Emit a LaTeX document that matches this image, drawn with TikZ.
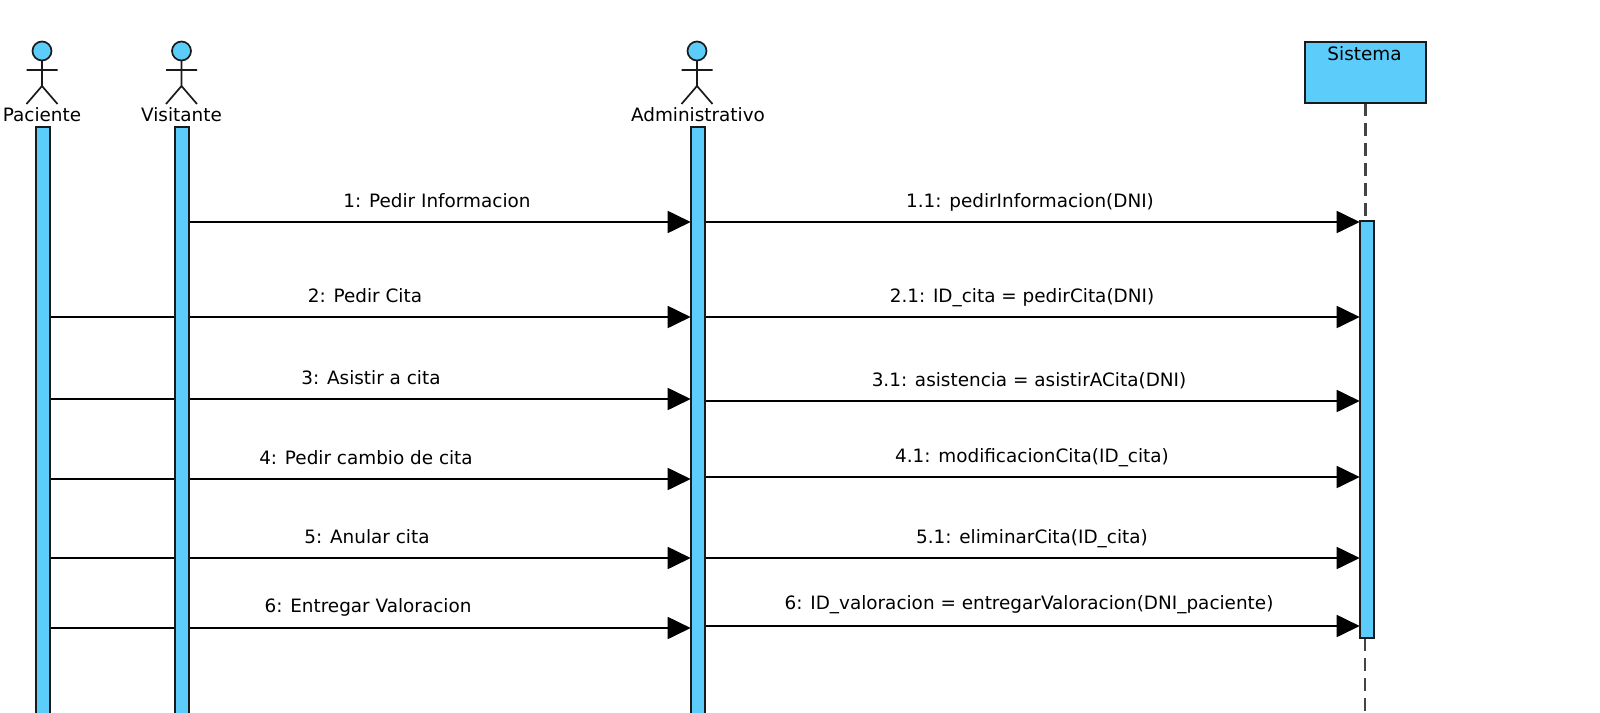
\documentclass[tikz,border=0pt]{standalone}
\usepackage{fontspec}
\setmainfont{DejaVu Sans}
\usetikzlibrary{arrows.meta,positioning,backgrounds}
\definecolor{lifeblue}{HTML}{5CCDFB}
\definecolor{dkline}{HTML}{1A1A1A}
\definecolor{dashgrey}{HTML}{444444}

\begin{document}
\begin{tikzpicture}[x=0.5pt,y=-0.5pt,
  bar/.style={draw=dkline,fill=lifeblue,line width=0.85pt,inner sep=0pt,outer sep=0pt,minimum width=7.3pt},
  objbox/.style={draw=dkline,fill=lifeblue,line width=0.85pt,inner sep=0pt,outer sep=0pt,
              minimum width=60.5pt,minimum height=30.5pt},
  lab/.style={font=\fontsize{9.2}{11}\selectfont,text=black,inner sep=0pt,text height=7pt,text depth=2pt,yshift=-0.5pt},
  msg/.style={-{Triangle[length=11.5pt,width=11pt]},black,line width=0.9pt},
  lifeline/.style={dashgrey,line width=1.1pt,dash pattern=on 6.5pt off 3.5pt},
  actorfig/.pic={
    \draw[dkline,line width=0.85pt,fill=lifeblue] (0,-53) circle[radius=9.5];
    \draw[dkline,line width=0.85pt] (0,-43.5) -- (0,-18) (-15.5,-34) -- (15.5,-34)
      (-15.5,0) -- (0,-18) -- (15.5,0);
  }]
\useasboundingbox (0,0) rectangle (1600,712);

\path (42,104) pic {actorfig};
\path (181.5,104) pic {actorfig};
\path (697,104) pic {actorfig};

\node[lab] (pac) at (42,115) {Paciente};
\node[lab] (vis) at (181.5,115) {Visitante};
\node[lab] (adm) at (698,115) {Administrativo};

\node[bar,minimum height=297pt] (pacbar) at (43,424) {};
\node[bar,minimum height=297pt] (visbar) at (182,424) {};
\node[bar,minimum height=297pt] (admbar) at (698,424) {};

\node[objbox] (sis) at (1365.5,72.5) {};
\node[lab] (sislab) at (1364.5,54) {Sistema};
\node[bar,minimum height=208.5pt] (sisbar) at (1367,429.5) {};
\coordinate (sisend) at (1365,712);

\coordinate (m1) at (0,222);
\coordinate (m2) at (0,317);
\coordinate (m3) at (0,399);
\coordinate (m3b) at (0,401);
\coordinate (m4) at (0,479);
\coordinate (m4b) at (0,477);
\coordinate (m5) at (0,558);
\coordinate (m6) at (0,628);
\coordinate (m6b) at (0,626);

\begin{scope}[on background layer]
\draw[lifeline] (sis.south) -- (sisbar.north -| sis.south);
\draw[lifeline] (sisbar.south -| sisend) -- (sisend);

\draw[msg] (visbar.east |- m1) -- (admbar.west |- m1);
\draw[msg] (admbar.east |- m1) -- (sisbar.west |- m1);
\draw[msg] (pacbar.east |- m2) -- (admbar.west |- m2);
\draw[msg] (admbar.east |- m2) -- (sisbar.west |- m2);
\draw[msg] (pacbar.east |- m3) -- (admbar.west |- m3);
\draw[msg] (admbar.east |- m3b) -- (sisbar.west |- m3b);
\draw[msg] (pacbar.east |- m4) -- (admbar.west |- m4);
\draw[msg] (admbar.east |- m4b) -- (sisbar.west |- m4b);
\draw[msg] (pacbar.east |- m5) -- (admbar.west |- m5);
\draw[msg] (admbar.east |- m5) -- (sisbar.west |- m5);
\draw[msg] (pacbar.east |- m6) -- (admbar.west |- m6);
\draw[msg] (admbar.east |- m6b) -- (sisbar.west |- m6b);
\end{scope}

\node[lab] (l1) at (437,201) {1: Pedir Informacion};
\node[lab] (l11) at (1030,201) {1.1: pedirInformacion(DNI)};
\node[lab] (l2) at (365,296) {2: Pedir Cita};
\node[lab] (l21) at (1022,296) {2.1: ID\_cita = pedirCita(DNI)};
\node[lab] (l3) at (371,378) {3: Asistir a cita};
\node[lab] (l31) at (1029,380) {3.1: asistencia = asistirACita(DNI)};
\node[lab] (l4) at (366,458) {4: Pedir cambio de cita};
\node[lab] (l41) at (1032,456) {4.1: modificacionCita(ID\_cita)};
\node[lab] (l5) at (367,537) {5: Anular cita};
\node[lab] (l51) at (1032,537) {5.1: eliminarCita(ID\_cita)};
\node[lab] (l6) at (368,606) {6: Entregar Valoracion};
\node[lab] (l61) at (1029,603) {6: ID\_valoracion = entregarValoracion(DNI\_paciente)};
\end{tikzpicture}
\end{document}
